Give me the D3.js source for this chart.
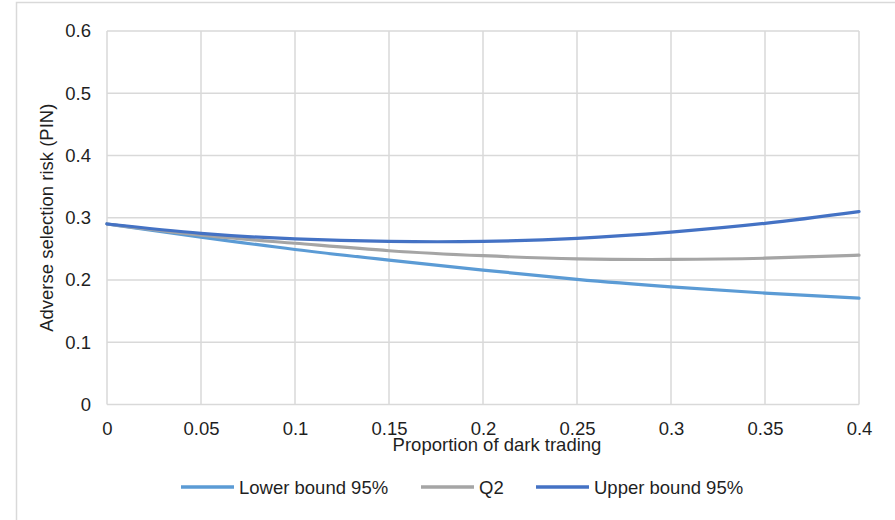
<!DOCTYPE html>
<html><head><meta charset="utf-8">
<script src="https://cdn.jsdelivr.net/npm/d3@7"></script>
<style>
html,body{margin:0;padding:0;background:#fff;}
text{font-family:"Liberation Sans",Arial,sans-serif;}
</style></head>
<body><svg id="c" width="895" height="520"></svg>
<script>
const xValues = [0, 0.05, 0.1, 0.15, 0.2, 0.25, 0.3, 0.35, 0.4];
const lowerBound = [0.290, 0.269, 0.249, 0.232, 0.216, 0.201, 0.189, 0.179, 0.171];
const q2 = [0.290, 0.272, 0.259, 0.247, 0.239, 0.234, 0.233, 0.235, 0.240];
const upperBound = [0.290, 0.275, 0.266, 0.262, 0.262, 0.267, 0.277, 0.291, 0.310];
const seriesNames = ["Lower bound 95%", "Q2", "Upper bound 95%"];
const seriesColors = ["#5B9BD5", "#A5A5A5", "#4472C4"];
const xTicks = [0, 0.05, 0.1, 0.15, 0.2, 0.25, 0.3, 0.35, 0.4];
const yTicks = [0, 0.1, 0.2, 0.3, 0.4, 0.5, 0.6];
const xTitle = "Proportion of dark trading";
const yTitle = "Adverse selection risk (PIN)";

const svg = d3.select("#c");
const fs = 18.5;
const textColor = "#1f1f1f";

// outer border
svg.append("rect").attr("x", 16.5).attr("y", 2.5).attr("width", 900).attr("height", 540)
  .attr("fill", "none").attr("stroke", "#d9d9d9").attr("stroke-width", 1.5);

const x = d3.scaleLinear().domain([0, 0.4]).range([107, 859]);
const y = d3.scaleLinear().domain([0, 0.6]).range([404.5, 31]);

// gridlines
const g = svg.append("g");
g.selectAll(".vg").data(xTicks).join("line")
  .attr("x1", d => x(d)).attr("x2", d => x(d)).attr("y1", y(0)).attr("y2", y(0.6))
  .attr("stroke", "#d9d9d9").attr("stroke-width", 1.5);
g.selectAll(".hg").data(yTicks).join("line")
  .attr("x1", x(0)).attr("x2", x(0.4)).attr("y1", d => y(d)).attr("y2", d => y(d))
  .attr("stroke", "#d9d9d9").attr("stroke-width", 1.5);

// axes via d3 axes (labels only)
const xAxis = svg.append("g").attr("transform", `translate(0,${y(0)})`)
  .call(d3.axisBottom(x).tickValues(xTicks).tickFormat(d => String(+d.toFixed(2))).tickSize(0).tickPadding(17));
xAxis.select(".domain").remove();
xAxis.selectAll("text").attr("font-size", fs).attr("fill", textColor)
  .attr("font-family", "Liberation Sans, Arial, sans-serif");

const yAxis = svg.append("g").attr("transform", `translate(${x(0)},0)`)
  .call(d3.axisLeft(y).tickValues(yTicks).tickFormat(d => String(+d.toFixed(1))).tickSize(0).tickPadding(16));
yAxis.select(".domain").remove();
yAxis.selectAll("text").attr("font-size", fs).attr("fill", textColor)
  .attr("font-family", "Liberation Sans, Arial, sans-serif");

// titles
svg.append("text").attr("x", 497).attr("y", 451).attr("text-anchor", "middle")
  .attr("font-size", fs).attr("fill", textColor).text(xTitle);
svg.append("text").attr("transform", `translate(53,${(y(0)+y(0.6))/2}) rotate(-90)`)
  .attr("text-anchor", "middle").attr("font-size", fs).attr("fill", textColor).text(yTitle);

// lines
const series = [lowerBound, q2, upperBound];
const line = d3.line().x((d, i) => x(xValues[i])).y(d => y(d)).curve(d3.curveNatural);
svg.append("g").selectAll("path").data(series).join("path")
  .attr("d", d => line(d)).attr("fill", "none")
  .attr("stroke", (d, i) => seriesColors[i]).attr("stroke-width", 3.2)
  .attr("stroke-linecap", "round");

// legend
const legendX = [181, 421, 536];
const lg = svg.append("g");
seriesNames.forEach((name, i) => {
  lg.append("line").attr("x1", legendX[i]).attr("x2", legendX[i] + 53)
    .attr("y1", 487).attr("y2", 487).attr("stroke", seriesColors[i]).attr("stroke-width", 3.3);
  lg.append("text").attr("x", legendX[i] + 58).attr("y", 493.5)
    .attr("font-size", fs).attr("fill", textColor).text(name);
});
</script></body></html>
